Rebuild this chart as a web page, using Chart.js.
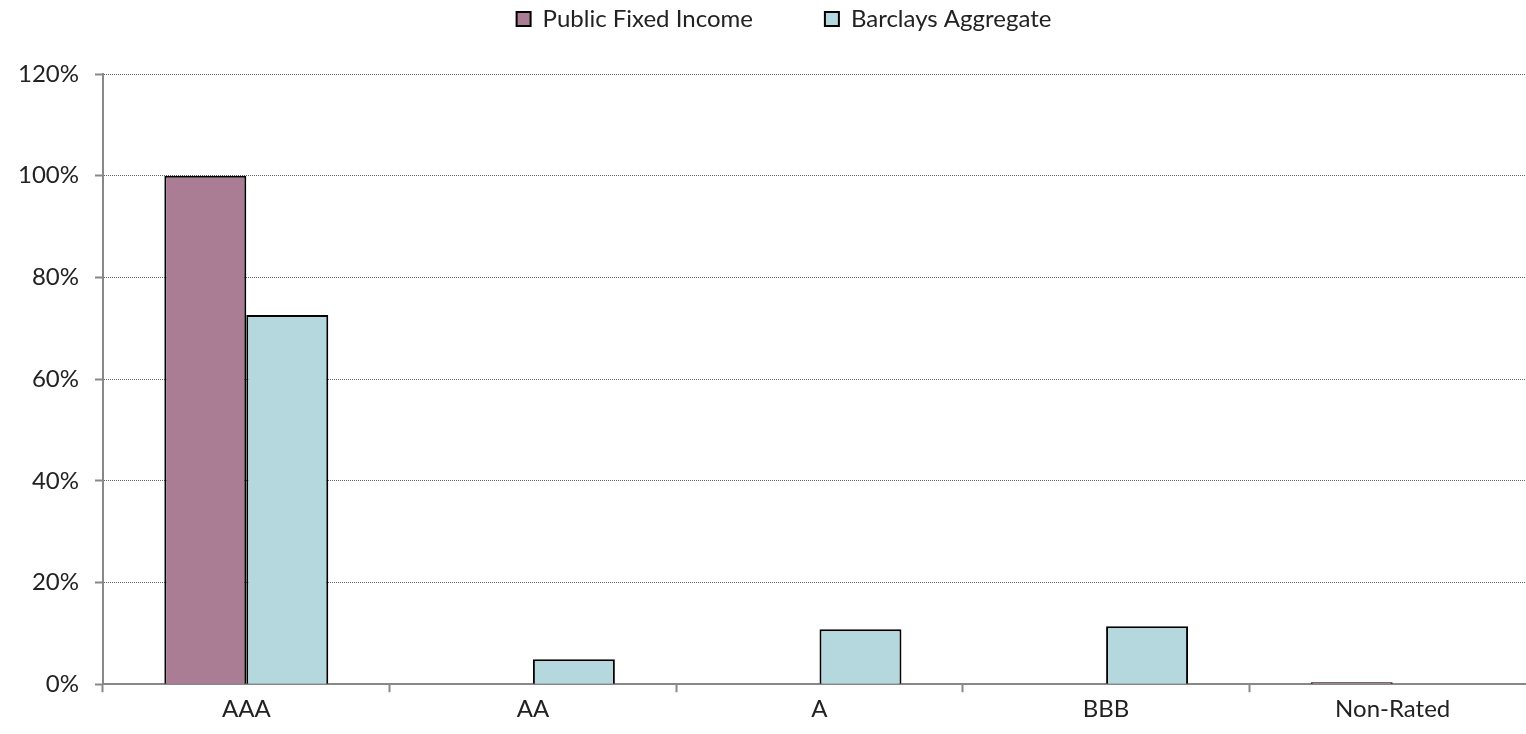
<!DOCTYPE html>
<html>
<head>
<meta charset="utf-8">
<script src="https://cdn.jsdelivr.net/npm/chart.js@4/dist/chart.umd.min.js"></script>
<style>
  html, body { margin: 0; padding: 0; background: #fff; overflow: hidden; }
  #wrap { width: 1540px; height: 734px; position: relative; }
</style>
</head>
<body>
<div id="wrap"><canvas id="c"></canvas></div>
<script>
const categories = ["AAA", "AA", "A", "BBB", "Non-Rated"];
const publicFixedIncome = [100, 0, 0, 0, 0.4];
const barclaysAggregate = [72.6, 4.9, 10.8, 11.4, 0];
const yTicks = [0, 20, 40, 60, 80, 100, 120];

const FONT = "Lato, 'Open Sans', sans-serif";
const FS = 24;
const LEGEND_GAP = 72;      // horizontal gap between legend items
const LEGEND_TEXT_TOP = 7;  // y of legend row top
const PLOT_TOP = 74;        // desired chart-area top
const LEGEND_SHIFT = 15;    // legend horizontal offset

const legendFitPlugin = {
  id: 'legendFit',
  beforeInit(chart) {
    const origFit = chart.legend.fit;
    chart.legend.fit = function () {
      origFit.call(this);
      this.height = PLOT_TOP - (LEGEND_TEXT_TOP - LEGEND_GAP);
    };
  },
  afterLayout(chart) {
    chart.legend.left += LEGEND_SHIFT;
    chart.legend.right += LEGEND_SHIFT;
  }
};

new Chart(document.getElementById('c'), {
  type: 'bar',
  data: {
    labels: categories,
    datasets: [
      {
        label: "Public Fixed Income",
        data: publicFixedIncome,
        backgroundColor: '#ab7d94',
        borderColor: '#000',
        borderWidth: 2,
        borderSkipped: 'bottom'
      },
      {
        label: "Barclays Aggregate",
        data: barclaysAggregate,
        backgroundColor: '#b4d8dd',
        borderColor: '#000',
        borderWidth: 2,
        borderSkipped: 'bottom'
      }
    ]
  },
  options: {
    responsive: true,
    maintainAspectRatio: false,
    animation: false,
    layout: { padding: { top: LEGEND_TEXT_TOP - LEGEND_GAP, right: 4, bottom: 7, left: 2 } },
    datasets: { bar: { categoryPercentage: 0.572, barPercentage: 1.0 } },
    plugins: {
      tooltip: { enabled: false },
      legend: {
        position: 'top',
        labels: {
          font: { family: FONT, size: FS },
          color: '#222',
          boxWidth: 14,
          boxHeight: 14,
          padding: LEGEND_GAP
        }
      }
    },
    scales: {
      x: {
        grid: {
          offset: true,
          drawOnChartArea: false,
          drawTicks: true,
          tickLength: 8,
          tickColor: '#888',
          tickWidth: 2
        },
        border: { color: '#888', width: 2 },
        ticks: {
          font: { family: FONT, size: FS },
          color: '#222',
          padding: 3
        }
      },
      y: {
        min: 0,
        max: 120,
        afterBuildTicks: (axis) => { axis.ticks = yTicks.map(v => ({ value: v })); },
        grid: {
          color: '#666',
          lineWidth: 1,
          drawTicks: true,
          tickLength: 8,
          tickColor: '#888',
          tickWidth: 2,
          tickBorderDash: []
        },
        border: { color: '#888', width: 2, dash: [1, 1] },
        ticks: {
          font: { family: FONT, size: FS },
          color: '#222',
          padding: 16,
          callback: (v) => v + '%'
        }
      }
    }
  },
  plugins: [legendFitPlugin]
});
</script>
</body>
</html>
